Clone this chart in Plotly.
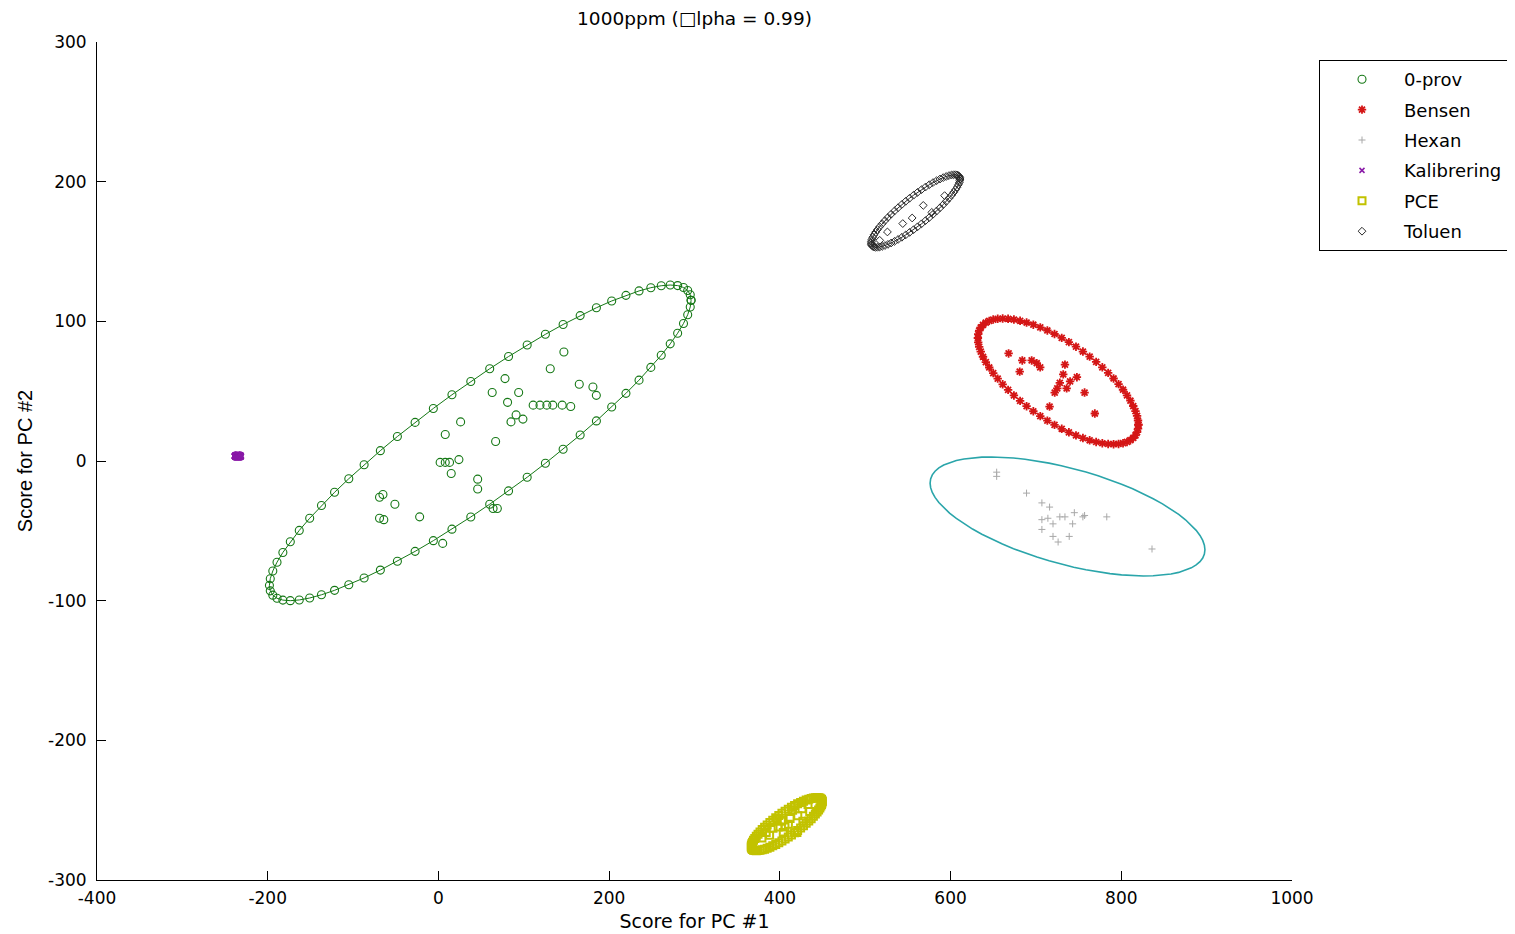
import numpy as np
import plotly.graph_objects as go

# ---------------- data ----------------
oprov_x = [147, 131, 78, 63, 94, 81, 111, 119, 127, 134, 145, 155, 165, 181, 185,
           91, 85, 99, 26, 8, 67, 2, 8, 13, 24, 15, 46, 46, -69, -65, -51, -22,
           -69, -64, 69, 64, 5]
oprov_y = [78, 66, 59, 49, 49, 42, 40, 40, 40, 40, 40, 39, 55, 53, 47,
           33, 28, 30, 28, 19, 14, -1, -1, -1, 1, -9, -13, -20, -26, -24, -31, -40,
           -41, -42, -34, -34, -59]

bensen_x = [668, 684, 695, 701, 705, 681, 734, 732, 748, 740, 728, 725, 722, 736, 757, 716, 769]
bensen_y = [77, 72, 72, 70, 67, 64, 69, 62, 60, 57, 56, 52, 49, 52, 49, 39, 34]

hexan_x = [654, 654, 689, 707, 716, 714, 707, 728, 734, 745, 757, 755, 783, 720, 743, 707, 720, 739, 726, 836]
hexan_y = [-8, -11, -23, -30, -33, -41, -42, -40, -40, -37, -39, -40, -40, -45, -45, -49, -54, -54, -58, -63]

kalib_x = [-236, -234, -235, -235]
kalib_y = [4, 4, 3, 5]

pce_x = [397, 402, 415, 421, 433, 435, 392, 404, 406, 379, 420, 427, 412, 388, 398, 426, 384, 410]
pce_y = [-256, -258, -250, -254, -246, -251, -263, -266, -262, -270, -266, -258, -256, -268, -262, -249, -266, -260]

toluen_x = [544, 555, 568, 578, 526, 593, 517]
toluen_y = [170, 174, 183, 178, 164, 190, 158]

# confidence ellipses (alpha = 0.99): centre, half-extent in x / y, correlation
ell_names = ["0-prov", "Bensen", "Hexan", "Kalibrering", "PCE", "Toluen"]
ell_cx = [49, 726, 737, -235, 408, 559]
ell_cy = [13, 57, -39.7, 3.5, -260, 179]
ell_sx = [247, 94, 161, 4, 41.5, 52]
ell_sy = [113, 45, 42.6, 1.2, 19, 26]
ell_rho = [0.903, -0.69, -0.56, 0.0, 0.85, 0.88]
n_ell_pts = 70

x_ticks = [-400, -200, 0, 200, 400, 600, 800, 1000]
x_tick_text = ["-400", "-200", "0", "200", "400", "600", "800", "1000"]
y_ticks = [-300, -200, -100, 0, 100, 200, 300]
y_tick_text = ["-300", "-200", "-100", "0", "100", "200", "300"]

title_text = "1000ppm (\u25a1lpha = 0.99)"
x_title = "Score for PC #1"
y_title = "Score for PC #2"

# ---------------- styles ----------------
GREEN = "#157815"
RED = "#d41616"
GRAY = "#a8a8a8"
TEAL = "#2aa5aa"
PURPLE = "#8a1aa8"
YELLOW = "#c2c200"
BLACK = "#2a2a2a"

styles = {
    "0-prov": dict(symbol="circle-open", color=GREEN, size=8, lw=1.1),
    "Bensen": dict(symbol="asterisk-open", color=RED, size=7, lw=1.8),
    "Hexan": dict(symbol="cross-thin-open", color=GRAY, size=5, lw=1),
    "Kalibrering": dict(symbol="x-thin-open", color=PURPLE, size=5, lw=1.5),
    "PCE": dict(symbol="square-open", color=YELLOW, size=7, lw=2),
    "Toluen": dict(symbol="diamond-open", color=BLACK, size=6, lw=1),
}

series = {
    "0-prov": (oprov_x, oprov_y),
    "Bensen": (bensen_x, bensen_y),
    "Hexan": (hexan_x, hexan_y),
    "Kalibrering": (kalib_x, kalib_y),
    "PCE": (pce_x, pce_y),
    "Toluen": (toluen_x, toluen_y),
}

fig = go.Figure()

for name, (xs, ys) in series.items():
    st = styles[name]
    fig.add_trace(go.Scatter(
        x=xs, y=ys, mode="markers", name=name, legendgroup=name,
        marker=dict(symbol=st["symbol"], size=st["size"], color=st["color"],
                    line=dict(color=st["color"], width=st["lw"])),
    ))

t = np.linspace(0, 2 * np.pi, n_ell_pts + 1)
for i, name in enumerate(ell_names):
    st = styles[name]
    r = ell_rho[i]
    ex = ell_cx[i] + ell_sx[i] * np.cos(t)
    ey = ell_cy[i] + ell_sy[i] * (r * np.cos(t) + np.sqrt(1 - r * r) * np.sin(t))
    if name == "Hexan":
        fig.add_trace(go.Scatter(x=ex, y=ey, mode="lines", showlegend=False,
                                 line=dict(color=TEAL, width=1.6), hoverinfo="skip"))
    else:
        mode = "markers" if name == "Kalibrering" else "lines+markers"
        fig.add_trace(go.Scatter(
            x=ex, y=ey, mode=mode, showlegend=False, hoverinfo="skip",
            line=dict(color=st["color"], width=1),
            marker=dict(symbol=st["symbol"], size=st["size"], color=st["color"],
                        line=dict(color=st["color"], width=st["lw"])),
        ))

# page body has an 8px margin; the figure is sized to fill the rest of the window
OFF = 8
W, H = 1515 - OFF, 934 - OFF
L, R, T, B = 97 - OFF, 223, 42 - OFF, 54

axis_common = dict(
    showline=True, linecolor="black", linewidth=1,
    ticks="inside", ticklen=9, tickcolor="black", tickwidth=1,
    showgrid=False, zeroline=False, mirror=False,
    tickfont=dict(family="DejaVu Sans", size=17, color="black"),
    automargin=False,
)

fig.update_layout(
    width=W, height=H,
    margin=dict(l=L, r=R, t=T, b=B, pad=0),
    paper_bgcolor="white", plot_bgcolor="white",
    font=dict(family="DejaVu Sans", color="black"),
    title=dict(text=title_text, x=(694.5 - OFF) / W, y=1 - (19 - OFF) / H,
               xref="container", yref="container", xanchor="center", yanchor="middle",
               font=dict(family="DejaVu Sans", size=18.5, color="black")),
    xaxis=dict(range=[-400, 1000], tickvals=x_ticks, ticktext=x_tick_text,
               ticklabelstandoff=3,
               title=dict(text=x_title, standoff=7,
                          font=dict(family="DejaVu Sans", size=19, color="black")),
               **axis_common),
    yaxis=dict(range=[-300, 300], tickvals=y_ticks, ticktext=y_tick_text,
               ticklabelstandoff=6,
               title=dict(text=y_title, standoff=10,
                          font=dict(family="Liberation Sans", size=20, color="black")),
               **axis_common),
    legend=dict(
        xref="container", yref="container",
        x=(1319 - OFF) / W, y=1 - (60 - OFF) / H,
        xanchor="left", yanchor="top",
        bordercolor="black", borderwidth=1, bgcolor="white",
        font=dict(family="DejaVu Sans", size=18, color="black"),
        itemwidth=74, tracegroupgap=4,
    ),
    showlegend=True,
)

fig.write_html("out.html")
